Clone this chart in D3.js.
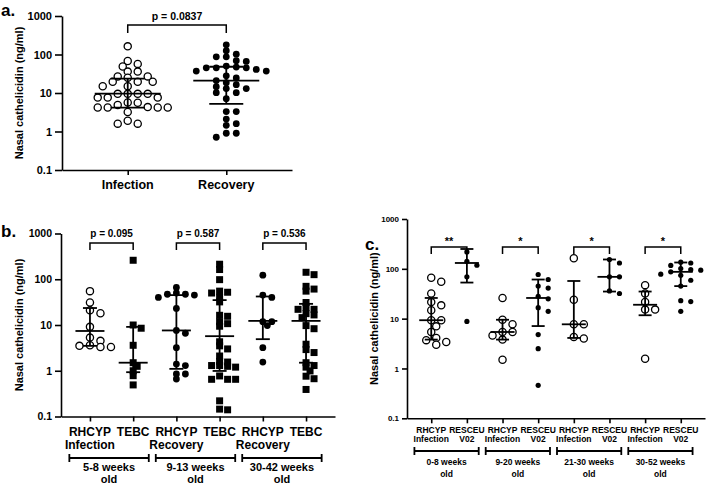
<!DOCTYPE html>
<html>
<head>
<meta charset="utf-8">
<script src="https://cdn.jsdelivr.net/npm/d3@7"></script>
<style>
body { margin: 0; background: #fff; }
text { font-family: "Liberation Sans", Arial, sans-serif; font-weight: bold; fill: #000; }
</style>
</head>
<body>
<svg id="chart" width="707" height="484"></svg>
<script>
// ---- data ----
var yTicks = [0.1, 1, 10, 100, 1000];

// panel a
var aGroups = ['Infection', 'Recovery'];
var aInfection = [163, 68, 57, 49, 36, 36, 27, 27, 25, 19.6, 19.6, 19.6, 15, 15, 9.5, 9.5, 9.5, 9.5, 7.6, 7.6, 7.6, 5.7, 5.6, 4.9, 4.3, 4.2, 4.2, 4.2, 4.2, 3.2, 1.9, 1.6, 1.6];
var aRecovery = [178, 125, 102, 87, 87, 69, 66, 50, 47, 45, 45, 45, 41, 37, 37, 28, 24.5, 21, 18.5, 16.5, 14.6, 13, 13, 10.2, 10.2, 7.1, 3.3, 3.3, 2.1, 1.6, 1.45, 0.9, 0.9, 0.71];
var aSummary = [[9.6, 4.15, 23.5], [21, 5.2, 48]]; // median, lower, upper
var aP = ['p = 0.0837'];

// panel b
var bTop = ['RHCYP', 'TEBC', 'RHCYP', 'TEBC', 'RHCYP', 'TEBC'];
var bSub = ['Infection', '', 'Recovery', '', 'Recovery', ''];
var bAges = [['5-8 weeks', 'old'], ['9-13 weeks', 'old'], ['30-42 weeks', 'old']];
var bP = ['p = 0.095', 'p = 0.587', 'p = 0.536'];
var b1 = [55, 31, 21, 18, 9.1, 5.3, 4.5, 3.6, 3.5, 3.3, 3.3];
var b2 = [260, 10, 8.5, 3.6, 1.5, 1.25, 1.0, 0.78, 0.49];
var b3 = [66, 50, 47, 47, 45, 40, 23, 7.6, 6.6, 3.2, 1.4, 1.3, 0.85, 0.85, 0.66];
var b4 = [213, 163, 98, 55, 52, 50, 40, 32, 16.3, 15.5, 11.8, 10.7, 9.4, 4.3, 3.5, 3.0, 2.1, 1.6, 1.55, 1.3, 1.3, 1.25, 1.2, 0.77, 0.65, 0.65, 0.65, 0.22, 0.145, 0.14];
var b5 = [123, 45, 40, 11.8, 11.8, 9.7, 3.2, 1.55];
var b6 = [142, 126, 70, 61, 55, 31, 24, 22, 22, 17.7, 16.6, 14.5, 9.7, 8.3, 3.8, 2.9, 2.5, 1.5, 1.3, 1.2, 0.99, 0.76, 0.67, 0.39];
var bSummary = [[7.4, 3.5, 23.5], [1.5, 0.93, 9.1], [7.6, 1.1, 45], [5.7, 0.99, 35], [12.3, 4.9, 42], [12.3, 1.5, 29]];

// panel c
var cTop = ['RHCYP', 'RESCEU', 'RHCYP', 'RESCEU', 'RHCYP', 'RESCEU', 'RHCYP', 'RESCEU'];
var cSub = ['Infection', 'V02', 'Infection', 'V02', 'Infection', 'V02', 'Infection', 'V02'];
var cAges = [['0-8 weeks', 'old'], ['9-20 weeks', 'old'], ['21-30 weeks', 'old'], ['30-52 weeks', 'old']];
var cP = ['**', '*', '*', '*'];
var c1 = [66, 55, 32, 21.5, 18.5, 14.7, 9.3, 9.3, 7, 5.4, 4.1, 3.7, 3.4, 3.0];
var c2 = [218, 142, 118, 69, 8.8];
var c3 = [26, 9.5, 7.7, 5.4, 5.4, 4.6, 3.8, 1.5];
var c4 = [77, 61, 45, 41, 28, 25, 16.6, 14, 4.8, 2.5, 0.46];
var c5 = [163, 24, 7.7, 7.7, 4.3, 4.0];
var c6 = [154, 131, 69, 69, 36, 32];
var c7 = [47, 32, 21.6, 15.2, 15.2, 1.57];
var c8 = [136, 131, 117, 101, 96, 94, 87, 78, 74, 59, 45, 23, 22, 14];
var cSummary = [[9.3, 3.8, 26], [131, 53, 250], [5.4, 3.8, 9.5], [26, 7.1, 61], [7.7, 4.1, 57], [69, 35, 154], [19, 11.7, 35], [87, 45, 134]];

var svg = d3.select('#chart');

// dodge layout: points spread sideways, vertical closeness tolerated a bit (like the prism plot)
function swarm(vals, y, d, vs) {
	var pts = vals.map((v) => ({ v: v, y: y(v) })).sort((a, b) => a.y - b.y);
	var placed = [];
	pts.forEach((p) => {
		for (var k = 0; k < 40; k++) {
			var off = k === 0 ? 0 : (k % 2 ? 1 : -1) * Math.ceil(k / 2) * d / 2;
			var hit = placed.some((q) => Math.hypot(q.dx - off, (q.y - p.y) * vs) < d - 0.01);
			if (!hit) { p.dx = off; break; }
		}
		placed.push(p);
	});
	return placed;
}

function drawPanel(cfg) {
	var g = svg.append('g');
	var y = d3.scaleLog().domain([0.1, 1000]).range([cfg.bottom, cfg.top]);
	var x = d3.scalePoint().domain(d3.range(cfg.data.length)).range([cfg.left, cfg.right]).padding(cfg.pad);

	var yAx = g.append('g')
		.attr('transform', `translate(${cfg.left},0)`)
		.call(d3.axisLeft(y).tickValues(yTicks).tickFormat((d) => String(d)).tickSize(cfg.tick).tickSizeOuter(0).tickPadding(3));
	yAx.attr('font-size', cfg.tickFont).attr('font-family', null);
	yAx.selectAll('path, line').attr('stroke-width', 1.6);

	var xAx = g.append('g')
		.attr('transform', `translate(0,${cfg.bottom})`)
		.call(d3.axisBottom(x).tickSize(5).tickSizeOuter(0).tickFormat(''));
	xAx.selectAll('path, line').attr('stroke-width', 1.6);

	// points
	cfg.data.forEach((vals, i) => {
		var pts = swarm(vals, y, cfg.spacing[cfg.marks[i]], cfg.vs);
		var cx = x(i);
		pts.forEach((p) => {
			if (cfg.marks[i] === 'square') {
				g.append('path')
					.attr('d', d3.symbol().type(d3.symbolSquare).size(cfg.sq * cfg.sq)())
					.attr('transform', `translate(${cx + p.dx},${p.y})`)
					.attr('fill', '#000');
			} else if (cfg.marks[i] === 'open') {
				g.append('circle').attr('cx', cx + p.dx).attr('cy', p.y).attr('r', cfg.rOpen)
					.attr('fill', '#fff').attr('stroke', '#000').attr('stroke-width', 1.3);
			} else {
				g.append('circle').attr('cx', cx + p.dx).attr('cy', p.y).attr('r', cfg.rDot).attr('fill', '#000');
			}
		});
	});

	// median and interquartile range
	cfg.summary.forEach((s, i) => {
		var cx = x(i);
		var line = (x1, x2, y1, y2) => g.append('line').attr('x1', x1).attr('x2', x2).attr('y1', y1).attr('y2', y2)
			.attr('stroke', '#000').attr('stroke-width', 1.8);
		line(cx - cfg.mw / 2, cx + cfg.mw / 2, y(s[0]), y(s[0]));
		line(cx - cfg.qw / 2, cx + cfg.qw / 2, y(s[1]), y(s[1]));
		line(cx - cfg.qw / 2, cx + cfg.qw / 2, y(s[2]), y(s[2]));
		line(cx, cx, y(s[1]), y(s[2]));
	});

	// comparison brackets
	cfg.pvals.forEach((t, k) => {
		var x1 = x(2 * k), x2 = x(2 * k + 1);
		g.append('path')
			.attr('d', `M${x1},${cfg.pY + cfg.pDrop}V${cfg.pY}H${x2}V${cfg.pY + cfg.pDrop}`)
			.attr('fill', 'none').attr('stroke', '#000').attr('stroke-width', 1.5);
		g.append('text').attr('x', (x1 + x2) / 2).attr('y', cfg.pText)
			.attr('text-anchor', 'middle').attr('font-size', cfg.pFont).text(t);
	});

	// category labels
	cfg.rows.forEach((r) => {
		r.texts.forEach((t, i) => {
			if (!t) return;
			g.append('text').attr('x', x(i)).attr('y', r.y)
				.attr('text-anchor', 'middle').attr('font-size', r.size).text(t);
		});
	});

	// age brackets under pairs
	if (cfg.ages) {
		var step = x.step();
		cfg.ages.forEach((a, k) => {
			var l = x(2 * k) - step / 2 + 1, r = x(2 * k + 1) + step / 2 - 6;
			g.append('path')
				.attr('d', `M${l},${cfg.ageY - 4}V${cfg.ageY + 4}M${l},${cfg.ageY}H${r}M${r},${cfg.ageY - 4}V${cfg.ageY + 4}`)
				.attr('fill', 'none').attr('stroke', '#000').attr('stroke-width', 1.8);
			a.forEach((t, j) => {
				g.append('text').attr('x', (l + r) / 2).attr('y', cfg.ageText[j])
					.attr('text-anchor', 'middle').attr('font-size', cfg.ageFont).text(t);
			});
		});
	}

	// y title and panel letter
	g.append('text')
		.attr('transform', `translate(${cfg.yLabelX},${(cfg.top + cfg.bottom) / 2}) rotate(-90)`)
		.attr('text-anchor', 'middle').attr('font-size', 11).text('Nasal cathelicidin (ng/ml)');
	g.append('text').attr('x', cfg.letterX).attr('y', cfg.letterY).attr('font-size', 17).text(cfg.letter);
}

// a.
drawPanel({
	data: [aInfection, aRecovery], marks: ['open', 'dot'], summary: aSummary,
	top: 16, bottom: 170, left: 62, right: 292, pad: 0.667, tick: 7, tickFont: 11,
	spacing: { open: 10, dot: 10 }, vs: 1.7, rOpen: 3.6, rDot: 3.4, sq: 7,
	mw: 66, qw: 34,
	pvals: aP, pY: 25, pDrop: 8, pText: 20, pFont: 10.5,
	rows: [{ texts: aGroups, y: 189, size: 12.5 }],
	yLabelX: 23, letter: 'a.', letterX: 1, letterY: 15.5
});

// b.
drawPanel({
	data: [b1, b2, b3, b4, b5, b6], marks: ['open', 'square', 'dot', 'square', 'dot', 'square'], summary: bSummary,
	top: 233.5, bottom: 416.5, left: 61, right: 335, pad: 0.67, tick: 6, tickFont: 10.5,
	spacing: { open: 10.5, dot: 9, square: 8 }, vs: 2.0, rOpen: 3.6, rDot: 3.4, sq: 7,
	mw: 29, qw: 14,
	pvals: bP, pY: 243, pDrop: 7, pText: 237, pFont: 10,
	rows: [{ texts: bTop, y: 436, size: 12 }, { texts: bSub, y: 449, size: 12 }],
	ages: bAges, ageY: 458, ageText: [471, 483], ageFont: 11,
	yLabelX: 23, letter: 'b.', letterX: 1, letterY: 237
});

// c.
drawPanel({
	data: [c1, c2, c3, c4, c5, c6, c7, c8], marks: ['open', 'dot', 'open', 'dot', 'open', 'dot', 'open', 'dot'], summary: cSummary,
	top: 219, bottom: 418.3, left: 407, right: 705, pad: 0.68, tick: 5, tickFont: 8,
	spacing: { open: 10, dot: 10 }, vs: 1.6, rOpen: 3.6, rDot: 2.6, sq: 7,
	mw: 24, qw: 13,
	pvals: cP, pY: 247, pDrop: 7, pText: 245, pFont: 11,
	rows: [{ texts: cTop, y: 432.5, size: 8.5 }, { texts: cSub, y: 442.3, size: 8.5 }],
	ages: cAges, ageY: 451, ageText: [465, 476.5], ageFont: 8.5,
	yLabelX: 378, letter: 'c.', letterX: 365, letterY: 250
});
</script>
</body>
</html>
